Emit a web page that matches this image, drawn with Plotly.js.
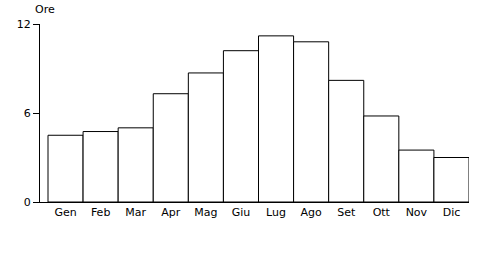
<!DOCTYPE html>
<html>
<head>
<meta charset="utf-8">
<script src="https://cdn.plot.ly/plotly-3.0.1.min.js"></script>
<style>html,body{margin:0;padding:0;background:#fff;}#chart{width:490px;height:255px;}</style>
</head>
<body>
<div id="chart"></div>
<script>
const months = ["Gen","Feb","Mar","Apr","Mag","Giu","Lug","Ago","Set","Ott","Nov","Dic"];
const hours = [4.5, 4.75, 5.0, 7.3, 8.7, 10.2, 11.2, 10.8, 8.2, 5.8, 3.5, 3.0];
const yTicks = [0, 6, 12];
const yLabel = "Ore";

const trace = {
  type: "bar",
  x: months,
  y: hours,
  marker: {color: "#ffffff", line: {color: "#000000", width: 1}},
  hoverinfo: "x+y"
};

const layout = {
  width: 490, height: 255,
  margin: {l: 40, r: 21, t: 24, b: 53},
  paper_bgcolor: "#ffffff", plot_bgcolor: "#ffffff",
  bargap: 0,
  showlegend: false,
  font: {family: "DejaVu Sans, Verdana, sans-serif", size: 11, color: "#000000"},
  xaxis: {
    type: "category",
    range: [-0.728, 11.5],
    showline: true, linecolor: "#000", linewidth: 1,
    ticks: "", showgrid: false, zeroline: false,
    tickfont: {size: 11, color: "#000"}
  },
  yaxis: {
    range: [0, 12],
    tickvals: yTicks, ticktext: yTicks.map(String),
    showline: true, linecolor: "#000", linewidth: 1,
    ticks: "outside", ticklen: 6, tickcolor: "#000", tickwidth: 1,
    showgrid: false, zeroline: false,
    tickfont: {size: 11, color: "#000"}
  },
  annotations: [{
    text: yLabel, xref: "paper", yref: "paper",
    x: -0.0163, y: 1.079, xanchor: "left", yanchor: "middle",
    showarrow: false, font: {size: 11, color: "#000"}
  }]
};

Plotly.newPlot("chart", [trace], layout, {displayModeBar: false, staticPlot: true});
</script>
</body>
</html>
